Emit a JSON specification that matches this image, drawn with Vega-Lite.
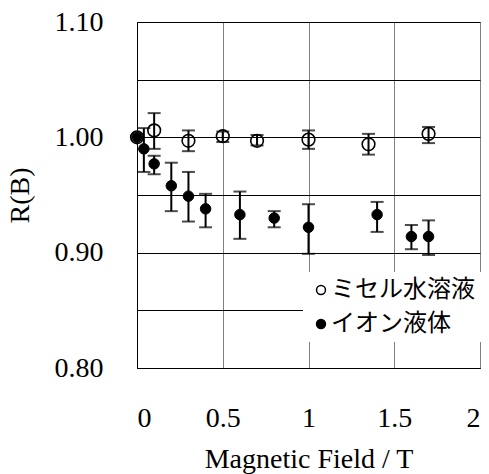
{
  "$schema": "https://vega.github.io/schema/vega-lite/v6.json",
  "width": 343,
  "height": 346,
  "autosize": {"type": "none"},
  "padding": {"left": 137, "top": 22, "right": 9, "bottom": 106},
  "background": "white",
  "config": {
    "view": {"stroke": "#808080", "strokeWidth": 1},
    "font": "Liberation Serif"
  },
  "data": {
    "values": [
      {"B": 0, "R": 1.000, "lo": null, "hi": null, "s": "ミセル水溶液"},
      {"B": 0.1, "R": 1.006, "lo": 0.990, "hi": 1.021, "s": "ミセル水溶液"},
      {"B": 0.3, "R": 0.997, "lo": 0.988, "hi": 1.006, "s": "ミセル水溶液"},
      {"B": 0.5, "R": 1.001, "lo": 0.996, "hi": 1.005, "s": "ミセル水溶液"},
      {"B": 0.7, "R": 0.997, "lo": 0.993, "hi": 1.002, "s": "ミセル水溶液"},
      {"B": 1.0, "R": 0.998, "lo": 0.990, "hi": 1.006, "s": "ミセル水溶液"},
      {"B": 1.35, "R": 0.994, "lo": 0.985, "hi": 1.003, "s": "ミセル水溶液"},
      {"B": 1.7, "R": 1.003, "lo": 0.995, "hi": 1.009, "s": "ミセル水溶液"},
      {"B": 0, "R": 1.000, "lo": null, "hi": null, "s": "イオン液体"},
      {"B": 0.04, "R": 0.990, "lo": 0.970, "hi": 1.008, "s": "イオン液体"},
      {"B": 0.1, "R": 0.977, "lo": 0.968, "hi": 0.984, "s": "イオン液体"},
      {"B": 0.2, "R": 0.958, "lo": 0.936, "hi": 0.978, "s": "イオン液体"},
      {"B": 0.3, "R": 0.949, "lo": 0.927, "hi": 0.970, "s": "イオン液体"},
      {"B": 0.4, "R": 0.938, "lo": 0.922, "hi": 0.951, "s": "イオン液体"},
      {"B": 0.6, "R": 0.933, "lo": 0.912, "hi": 0.953, "s": "イオン液体"},
      {"B": 0.8, "R": 0.930, "lo": 0.922, "hi": 0.936, "s": "イオン液体"},
      {"B": 1.0, "R": 0.922, "lo": 0.899, "hi": 0.942, "s": "イオン液体"},
      {"B": 1.4, "R": 0.933, "lo": 0.918, "hi": 0.944, "s": "イオン液体"},
      {"B": 1.6, "R": 0.914, "lo": 0.903, "hi": 0.924, "s": "イオン液体"},
      {"B": 1.7, "R": 0.914, "lo": 0.898, "hi": 0.928, "s": "イオン液体"}
    ]
  },
  "encoding": {
    "x": {
      "field": "B", "type": "quantitative",
      "scale": {"domain": [0, 2], "nice": false},
      "axis": {
        "values": [0, 0.5, 1, 1.5, 2], "format": "~g",
        "title": "Magnetic Field / T",
        "grid": true, "gridColor": "#808080", "gridWidth": 1,
        "ticks": false, "domainColor": "black", "domainWidth": 1,
        "labelPadding": 36, "labelFontSize": 28, "labelColor": "black",
        "labelFont": "Liberation Serif",
        "titleFont": "Liberation Serif", "titleFontSize": 28, "titleFontWeight": "normal",
        "titleColor": "black", "titlePadding": 13
      }
    },
    "y": {
      "field": "R", "type": "quantitative",
      "scale": {"domain": [0.8, 1.1], "nice": false, "zero": false},
      "axis": {
        "values": [0.8, 0.85, 0.9, 0.95, 1.0, 1.05, 1.1], "format": ".2f",
        "labelExpr": "round(datum.value*100) % 10 == 0 ? datum.label : ''",
        "title": "R(B)",
        "grid": true, "gridColor": "black", "gridWidth": 1,
        "ticks": false, "domainColor": "black", "domainWidth": 1,
        "labelPadding": 34, "labelFontSize": 28, "labelColor": "black",
        "labelFont": "Liberation Serif",
        "titleFont": "Liberation Serif", "titleFontSize": 28, "titleFontWeight": "normal",
        "titleColor": "black", "titlePadding": 20
      }
    },
    "fill": {
      "field": "s", "type": "nominal",
      "scale": {"domain": ["ミセル水溶液", "イオン液体"], "range": ["rgba(0,0,0,0)", "black"]},
      "legend": {
        "title": null, "orient": "none", "legendX": 166, "legendY": 250,
        "fillColor": "white", "padding": 6,
        "labelFont": "Noto Sans CJK JP", "labelFontSize": 24, "labelColor": "black",
        "symbolType": "circle", "symbolSize": 80, "symbolStrokeColor": "black", "symbolStrokeWidth": 1.5,
        "symbolOffset": 0, "rowPadding": 10, "labelOffset": -2
      }
    }
  },
  "layer": [
    {
      "transform": [{"filter": "datum.s == 'ミセル水溶液'"}],
      "mark": {"type": "point", "shape": "circle", "filled": true, "stroke": "black", "strokeWidth": 1.6, "opacity": 1, "size": 160}
    },
    {
      "transform": [{"filter": "datum.s == 'イオン液体'"}],
      "mark": {"type": "point", "shape": "circle", "filled": true, "stroke": "black", "strokeWidth": 1, "opacity": 1, "size": 110}
    },
    {
      "transform": [{"filter": "datum.lo != null"}],
      "mark": {"type": "errorbar", "ticks": {"size": 13, "thickness": 2, "color": "black"}, "thickness": 2, "color": "black"},
      "encoding": {
        "y": {"field": "lo", "type": "quantitative"},
        "y2": {"field": "hi"},
        "fill": null
      }
    }
  ]
}
